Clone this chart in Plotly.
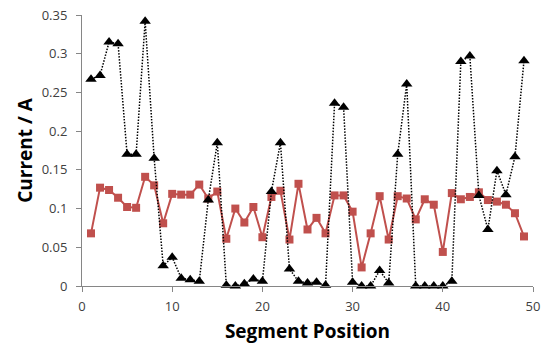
import plotly.graph_objects as go

segments = list(range(1, 50))
series_a = [0.267, 0.272, 0.315, 0.313, 0.170, 0.170, 0.342, 0.165, 0.026, 0.037,
            0.010, 0.008, 0.006, 0.111, 0.185, 0.001, 0.000, 0.003, 0.009, 0.006,
            0.122, 0.185, 0.022, 0.006, 0.004, 0.005, 0.001, 0.236, 0.231, 0.005,
            0.000, 0.000, 0.020, 0.004, 0.170, 0.261, 0.000, 0.000, 0.000, 0.000,
            0.006, 0.290, 0.297, 0.117, 0.073, 0.149, 0.118, 0.167, 0.291]
series_b = [0.068, 0.127, 0.124, 0.114, 0.102, 0.101, 0.141, 0.130, 0.081, 0.119,
            0.118, 0.118, 0.131, 0.113, 0.122, 0.061, 0.100, 0.082, 0.102, 0.063,
            0.115, 0.123, 0.060, 0.132, 0.073, 0.088, 0.068, 0.117, 0.117, 0.096,
            0.024, 0.068, 0.116, 0.060, 0.116, 0.113, 0.086, 0.112, 0.105, 0.044,
            0.120, 0.112, 0.115, 0.121, 0.111, 0.109, 0.105, 0.094, 0.064]
x_ticks = [0, 10, 20, 30, 40, 50]
y_ticks = [0, 0.05, 0.1, 0.15, 0.2, 0.25, 0.3, 0.35]
y_tick_labels = ["0", "0.05", "0.1", "0.15", "0.2", "0.25", "0.3", "0.35"]

fig = go.Figure()
fig.add_trace(go.Scatter(
    x=segments, y=series_b, mode="lines+markers",
    line=dict(color="#C0504D", width=2),
    marker=dict(symbol="square", size=8, color="#C0504D"),
    cliponaxis=False, showlegend=False))
fig.add_trace(go.Scatter(
    x=segments, y=series_a, mode="lines+markers",
    line=dict(color="#000000", width=1.5, dash="1.5px,1.5px"),
    marker=dict(symbol="triangle-up", size=10, color="#000000"),
    cliponaxis=False, showlegend=False))

fam = "Open Sans, Liberation Sans, sans-serif"
axis_font = dict(family=fam, size=13, color="#404040")
title_font = dict(family=fam, size=19, color="#000000")
fig.update_layout(
    width=545, height=344,
    margin=dict(l=82, r=12, t=15, b=58),
    paper_bgcolor="white", plot_bgcolor="white",
    xaxis=dict(range=[0, 50], tickvals=x_ticks, showgrid=False, zeroline=False,
               automargin=False,
               showline=True, linecolor="#868686", linewidth=1,
               ticks="outside", ticklen=5, tickcolor="#868686",
               ticklabelstandoff=3,
               tickfont=axis_font,
               title=dict(text="<b>Segment Position</b>", standoff=15, font=title_font)),
    yaxis=dict(range=[0, 0.35], tickvals=y_ticks, ticktext=y_tick_labels,
               showgrid=False, zeroline=False, automargin=False,
               showline=True, linecolor="#868686", linewidth=1,
               ticks="outside", ticklen=5, tickcolor="#868686",
               ticklabelstandoff=6,
               tickfont=axis_font,
               title=dict(text="<b>Current / A</b>", standoff=4, font=title_font)),
)
fig.write_html("out.html")
